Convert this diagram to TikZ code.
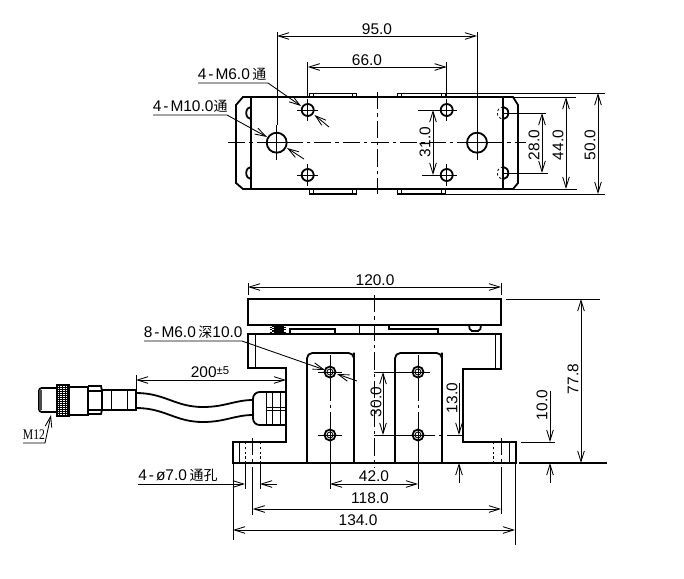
\documentclass[tikz,border=0pt]{standalone}
\usepackage{fontspec}
\setmainfont{Liberation Sans}
\newfontfamily\cjk{Noto Sans CJK SC}
\newfontfamily\mserif{Liberation Serif}
\usetikzlibrary{arrows.meta}
\newcommand{\ct}[1]{{\cjk\fontsize{10.5}{12}\selectfont #1}}
\newcommand{\hy}{\kern1.5pt-\kern1.5pt}
\tikzset{
    outl/.style={line width=1.35pt},
    thinl/.style={line width=0.65pt},
    centl/.style={line width=0.65pt,dash pattern=on 13pt off 3pt on 2.5pt off 3pt},
    dotl/.style={line width=0.6pt,dash pattern=on 1.8pt off 1.8pt},
    dimn/.style={thinl,{Straight Barb[length=8pt,width=5pt]}-{Straight Barb[length=8pt,width=5pt]}},
    dimr/.style={thinl,-{Straight Barb[length=8pt,width=5pt]}},
    txt/.style={inner sep=0pt,font=\fontsize{11.6}{13}\selectfont},
    vtxt/.style={txt,rotate=90}
}
\begin{document}
\begin{tikzpicture}[x=0.75pt,y=-0.75pt]
    \useasboundingbox (0,0) rectangle (684,578);
    % top view
    \draw[outl] (250.7,97) rectangle (503.3,189);
    \draw[outl] (250.7,97) -- (243,97) -- (236,105) -- (236,183) -- (243,189) -- (250.7,189);
    \draw[outl] (503.3,97) -- (513,97) -- (518,105) -- (518,183) -- (513,189) -- (503.3,189);
    \foreach \ypos in {113,173} {
        \draw[outl] (250.7,\ypos-6) arc (270:90:4.5 and 6);
        \draw[outl] (503.3,\ypos-6) arc (-90:90:5 and 6);
        \draw[dotl] (503.3,\ypos-6) arc (270:90:6 and 6);
    }
    \foreach \xa/\xb in {309/356,397/445} {
        \draw[thinl] (\xa,97) -- (\xa,93) -- (\xb,93) -- (\xb,97);
        \draw[thinl] (\xa,189) -- (\xa,194) -- (\xb,194) -- (\xb,189);
        \draw[thinl] (\xa+4,93) -- (\xa+4,97) (\xb-4,93) -- (\xb-4,97);
        \draw[thinl] (\xa+4,189) -- (\xa+4,194) (\xb-4,189) -- (\xb-4,194);
        \draw[outl] (\xa,194) -- (\xb,194);
    }
    \draw[centl] (228,142.7) -- (526,142.7);
    \draw[centl] (377,92) -- (377,194);
    \coordinate (holeA) at (276.7,142.7);
    \coordinate (holeB) at (477,142.7);
    \foreach \hname in {holeA,holeB} {
        \draw[outl] (\hname) circle (10);
        \draw[thinl] ([xshift=-13]\hname) -- ([xshift=13]\hname);
        \draw[thinl] ([yshift=-13]\hname) -- ([yshift=13]\hname);
    }
    \coordinate (holeC) at (307.7,110);
    \coordinate (holeD) at (307.7,175);
    \coordinate (holeE) at (446.7,110);
    \coordinate (holeF) at (446.7,175);
    \foreach \hname in {holeC,holeD,holeE,holeF} {
        \draw[outl] (\hname) circle (6);
        \draw[thinl] ([xshift=-8]\hname) -- ([xshift=8]\hname);
        \draw[thinl] ([yshift=-8]\hname) -- ([yshift=8]\hname);
    }
    % top view dimensions
    \draw[dimn] (277,36) -- (477,36);
    \node[txt] (dimA) at (377,29) {95.0};
    \draw[thinl] (277,32) -- (277,125) (477,32) -- (477,125);
    \draw[dimn] (307.7,67) -- (446.7,67);
    \node[txt] (dimB) at (367,60) {66.0};
    \draw[thinl] (307.7,62) -- (307.7,97) (446.7,62) -- (446.7,97);
    \draw[dimn] (433,110) -- (433,175);
    \node[vtxt] (dimC) at (425,142) {31.0};
    \draw[thinl] (418,110) -- (440,110) (422,175) -- (440,175);
    \draw[dimn] (542,113) -- (542,173);
    \node[vtxt] (dimD) at (534,145) {28.0};
    \draw[thinl] (504,113) -- (546,113) (504,173) -- (548,173);
    \draw[dimn] (566,97) -- (566,189);
    \node[vtxt] (dimE) at (558,145) {44.0};
    \draw[thinl] (503,97) -- (576,97) (503,189) -- (577,189);
    \draw[dimn] (598,93) -- (598,194);
    \node[vtxt] (dimF) at (590,145) {50.0};
    \draw[thinl] (445,93) -- (605,93) (445,194) -- (605,194);
    % hole callouts
    \node[txt,anchor=west] (calA) at (197.5,74.5) {4\hy M6.0\,\ct{通}};
    \draw[dimr] (198,83) -- (268,83) -- (301,106);
    \draw[dimr] (329,127) -- (314.5,115);
    \node[txt,anchor=west] (calB) at (152.5,106.5) {4\hy M10.0\ct{通}};
    \draw[dimr] (153,115) -- (227,115) -- (267,137);
    \draw[dimr] (304,159) -- (287,148);
    % front view
    \draw[outl] (248,299) rectangle (501,325);
    \draw[outl] (248,334) -- (501,334) -- (501,369) -- (463,369) -- (463,442) -- (516,442) -- (516,463)
        -- (233,463) -- (233,442) -- (286,442) -- (286,368) -- (248,368) -- cycle;
    \draw[thinl] (255,334) -- (255,368) (495,334) -- (495,369);
    \draw[thinl] (239,442) -- (239,463) (509,442) -- (509,463);
    \foreach \xpos in {245,260,493,509} {
        \draw[dotl] (\xpos,442) -- (\xpos,463);
    }
    \draw[centl] (252.7,438) -- (252.7,463);
    \draw[centl] (501,438) -- (501,463);
    \foreach \xa/\xb in {307/354,395/442} {
        \draw[outl] (\xa,463) -- (\xa,358) [rounded corners=4pt] -- (\xa,353) -- (\xb,353) -- (\xb,358) [sharp corners] -- (\xb,463);
    }
    % gap between plate and body
    \fill (272,326) rectangle (284,333.5);
    \foreach \ypos in {327,329.5,332} {
        \draw[thinl,white] (272,\ypos) -- (274,\ypos);
        \draw[thinl] (270,\ypos) -- (272,\ypos) (284,\ypos) -- (286,\ypos);
    }
    \draw[outl] (290,334) -- (290,329) -- (335,329) -- (335,334);
    \draw[thinl] (359,325) -- (359,334);
    \draw[outl] (389,325) -- (389,329) -- (438,329) -- (438,334);
    \draw[outl,rounded corners=1.5pt] (469,325) -- (470,331) -- (480,331) -- (481,325);
    \draw[centl] (374,295) -- (374,468);
    % front view holes
    \coordinate (holeG) at (330,372);
    \coordinate (holeH) at (330,435);
    \coordinate (holeI) at (418,372);
    \coordinate (holeJ) at (418,435);
    \draw[centl] (330,355) -- (330,446) (418,355) -- (418,446);
    \foreach \hname in {holeG,holeH,holeI,holeJ} {
        \draw[outl] (\hname) circle (5.5);
        \draw[thinl] (\hname) circle (3);
        \draw[thinl] ([xshift=-9]\hname) -- ([xshift=9]\hname);
        \draw[thinl] ([yshift=-9]\hname) -- ([yshift=9]\hname);
    }
    % connector and cable
    \draw[outl,rounded corners=2pt] (57,388) -- (39,388) -- (39,412) -- (57,412);
    \fill[black!70] (39,390) rectangle (42,410);
    \draw[outl] (57,385) rectangle (69,416);
    \foreach \ypos in {387,389,...,415} {
        \draw[thinl] (57,\ypos) -- (69,\ypos);
    }
    \foreach \xpos in {59,62,65,67} {
        \draw[thinl] (\xpos,385) -- (\xpos,416);
    }
    \draw[outl] (69,387) -- (88,387) -- (88,415) -- (69,415);
    \draw[outl] (88,386) -- (101,386) -- (102,391) -- (88,391);
    \draw[outl] (88,414) -- (101,414) -- (102,410) -- (88,410);
    \draw[outl] (102,390) rectangle (136,410);
    \draw[thinl] (111,390) -- (111,410) (127,390) -- (127,410);
    \draw[outl] (136,393) .. controls (165,393) and (175,407) .. (203,407)
        .. controls (225,407) and (235,400) .. (253,400);
    \draw[outl] (136,408) .. controls (165,408) and (175,422) .. (203,422)
        .. controls (225,422) and (235,415) .. (253,415);
    \draw[outl,rounded corners=5pt] (286,392) -- (253,392) -- (253,425) -- (286,425);
    \draw[thinl] (266,392) -- (266,425) (272,392) -- (272,425) (280,392) -- (280,425);
    \draw[thinl] (266,407) -- (286,407) (266,410) -- (286,410);
    \draw[dimn] (136,380) -- (286,380);
    \draw[thinl] (136,375) -- (136,390);
    \node[txt] (dimG) at (210,372) {200\raisebox{2pt}{\fontsize{8.5}{10}\selectfont ±5}};
    \node[inner sep=0pt,xscale=.8,font=\mserif\fontsize{11}{13}\selectfont] (labM) at (34,435) {M12};
    \draw[dimr] (23,443) -- (45,443) -- (51,415);
    % front view dimensions
    \draw[dimn] (248,287) -- (501,287);
    \node[txt] (dimH) at (375,280) {120.0};
    \draw[thinl] (248,283) -- (248,295) (501,283) -- (501,295);
    \node[txt,anchor=west] (calC) at (143.5,332) {8\hy M6.0\,\ct{深}10.0};
    \draw[dimr] (144,341) -- (242,341) -- (325,370);
    \draw[dimr] (357,381) -- (337,374);
    \draw[dimn] (383,372) -- (383,435);
    \draw[thinl] (374,372) -- (418,372) (374,435) -- (418,435);
    \node[vtxt] (dimI) at (376,402) {30.0};
    \draw[centl] (418,435) -- (463,435);
    \draw[dimr] (459,383) -- (459,435);
    \draw[dimr] (459,483) -- (459,463);
    \node[vtxt] (dimJ) at (452,398) {13.0};
    \draw[dimr] (550,391) -- (550,442);
    \draw[dimr] (550,483) -- (550,463);
    \node[vtxt] (dimK) at (542,405) {10.0};
    \draw[thinl] (521,442) -- (555,442);
    \draw[outl] (519,463) -- (607,463);
    \draw[dimn] (581,299) -- (581,463);
    \draw[thinl] (506,299) -- (600,299);
    \node[vtxt] (dimL) at (573,379) {77.8};
    \draw[dimn] (330,484) -- (418,484);
    \node[txt] (dimM) at (374,476) {42.0};
    \draw[thinl] (330,446) -- (330,489) (418,446) -- (418,489);
    \draw[dimn] (252.7,509) -- (501,509);
    \node[txt] (dimN) at (370,498) {118.0};
    \draw[thinl] (252.7,467) -- (252.7,515) (501,467) -- (501,514);
    \draw[dimn] (233,530) -- (515,530);
    \node[txt] (dimO) at (358,520) {134.0};
    \draw[thinl] (233,463) -- (233,540) (515,463) -- (515,545);
    \node[txt,anchor=west] (calD) at (138,475) {4\hy ø7.0\,\ct{通孔}};
    \draw[dimr] (138,484) -- (245,484);
    \draw[dimr] (277,484) -- (260,484);
    \draw[thinl] (245,463) -- (245,489) (260,463) -- (260,489);
\end{tikzpicture}
\end{document}
